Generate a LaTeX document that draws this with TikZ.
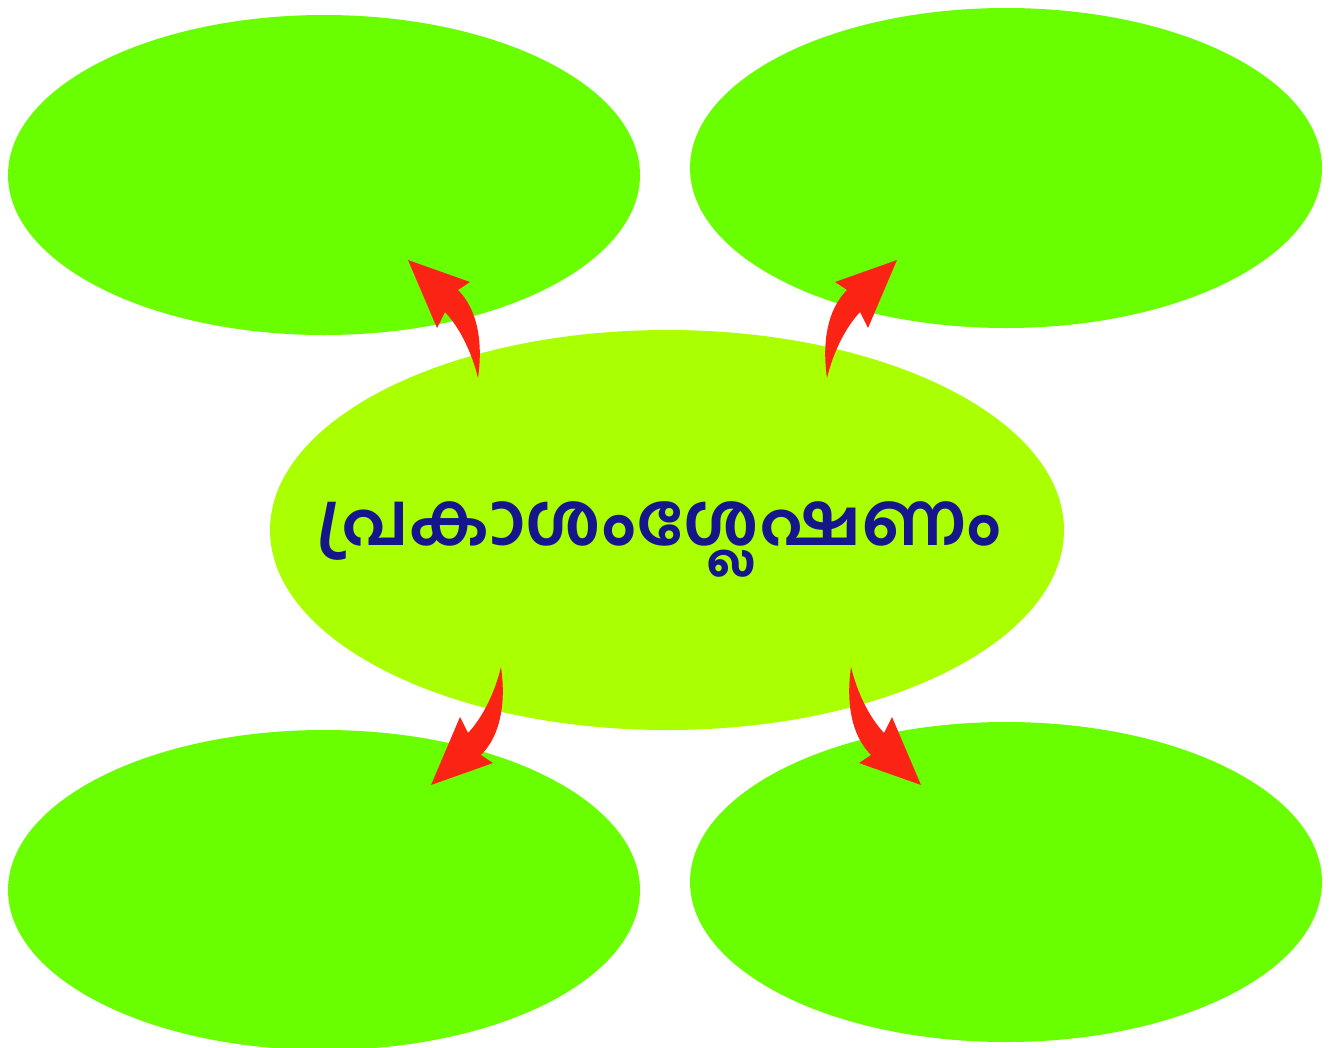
\documentclass[tikz,border=0pt]{standalone}
\usepackage{fontspec}
\newfontfamily\mlfont[Script=Malayalam]{Hind Kochi}
\definecolor{leafgreen}{RGB}{106,255,0}
\definecolor{limegreen}{RGB}{170,255,0}
\definecolor{arrowred}{RGB}{250,35,20}
\definecolor{textnavy}{RGB}{22,22,140}
\begin{document}
\begin{tikzpicture}[x=1pt,y=-1pt,
  blob/.style={fill=leafgreen},
  curvedarrow/.pic={
    \fill[arrowred] (0,0) .. controls (5,-35) and (0,-68) .. (-20,-88)
      -- (-8,-96) -- (-70,-118) -- (-41,-50) -- (-33,-66)
      .. controls (-18,-50) and (-6,-25) .. (0,0) -- cycle;
  },
]
\useasboundingbox (0,0) rectangle (1330,1047);
\fill[white] (0,0) rectangle (1330,1047);
% ellipses
\fill[blob] (324,175) ellipse [x radius=316pt, y radius=160pt];
\fill[blob] (1006,168) ellipse [x radius=316pt, y radius=160pt];
\fill[blob] (324,890) ellipse [x radius=316pt, y radius=160pt];
\fill[blob] (1006,882) ellipse [x radius=316pt, y radius=160pt];
\fill[limegreen] (667,530) ellipse [x radius=397pt, y radius=200pt];
\node[anchor=base,text=textnavy] (center) at (659,545)
  {\mlfont\bfseries\fontsize{73}{80}\selectfont പ്രകാശംശ്ലേഷണം};
% arrow tails
\coordinate (t1) at (478,378);
\coordinate (t2) at (827,378);
\coordinate (t3) at (501,667);
\coordinate (t4) at (851,667);
\pic at (t1) {curvedarrow};
\pic[xscale=-1] at (t2) {curvedarrow};
\pic[yscale=-1] at (t3) {curvedarrow};
\pic[xscale=-1,yscale=-1] at (t4) {curvedarrow};
\end{tikzpicture}
\end{document}
